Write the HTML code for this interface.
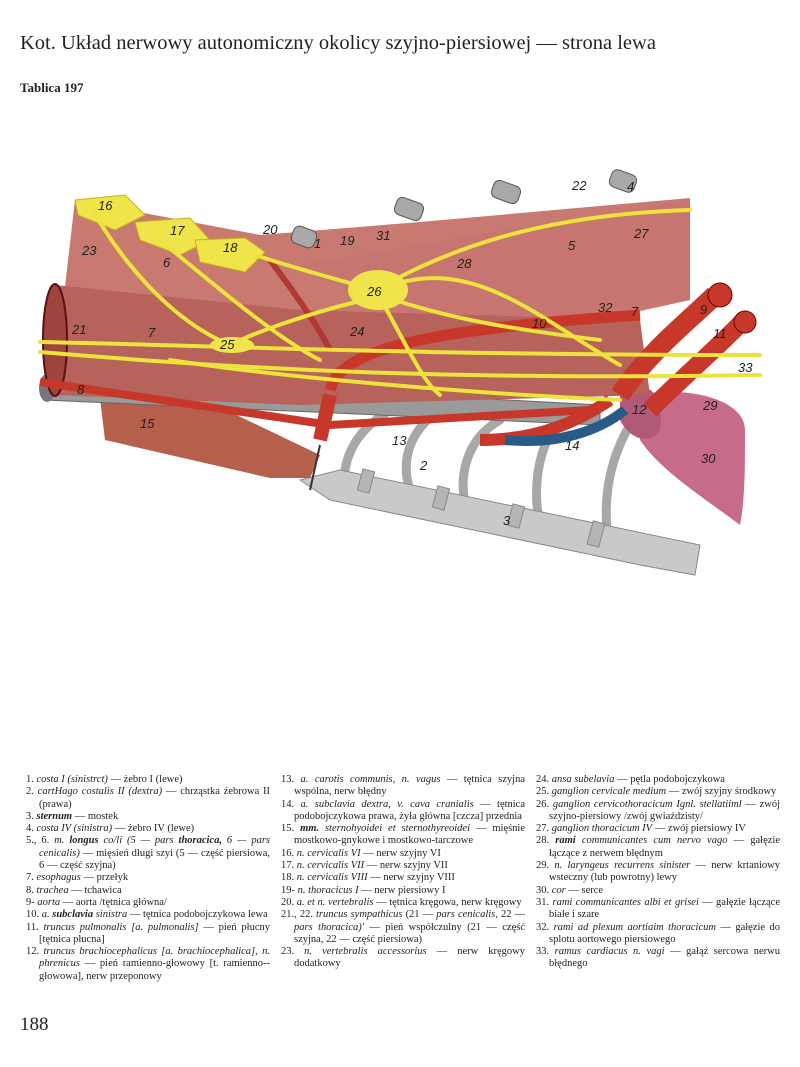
<!DOCTYPE html>
<html><head><meta charset="utf-8"><style>
body{margin:0;background:#fff;}
#p{position:relative;width:800px;height:1067px;overflow:hidden;background:#fff;font-family:"Liberation Serif",serif;color:#222;}
.t{position:absolute;left:20px;top:32px;font-size:20.5px;letter-spacing:0px;white-space:nowrap;}
.tb{position:absolute;left:20px;top:80px;font-size:13px;font-weight:bold;}
.col{position:absolute;top:774px;width:244px;font-size:10.5px;line-height:12.3px;}
.col div{padding-left:13px;text-indent:-13px;text-align:justify;}
.pn{position:absolute;left:20px;top:1014px;font-size:19px;}
svg{position:absolute;left:0;top:0;}
svg text{font-family:"Liberation Sans",sans-serif;font-style:italic;font-size:13px;fill:#222;}
</style></head><body><div id="p">
<div class="t">Kot. Układ nerwowy autonomiczny okolicy szyjno-piersiowej — strona lewa</div>
<div class="tb">Tablica 197</div>
<svg width="800" height="1067" viewBox="0 0 800 1067">
<g fill="none" stroke="#a8a8a8" stroke-width="9" stroke-linecap="round">
<path d="M345,470 C350,440 370,420 400,405"/>
<path d="M410,490 C400,460 410,430 440,410"/>
<path d="M470,520 C455,480 465,440 500,420"/>
<path d="M545,540 C530,500 535,450 560,420"/>
<path d="M610,550 C600,500 610,450 640,410"/>
</g>
<path d="M300,480 L340,470 L700,545 L695,575 L640,565 L330,500 Z" fill="#c9c9c9" stroke="#888" stroke-width="1"/>
<g fill="#b5b5b5" stroke="#888"><rect x="360" y="470" width="12" height="22" transform="rotate(15 366 481)"/><rect x="435" y="487" width="12" height="22" transform="rotate(15 441 498)"/><rect x="510" y="505" width="12" height="22" transform="rotate(15 516 516)"/><rect x="590" y="522" width="12" height="24" transform="rotate(15 596 534)"/></g>
<path d="M635,395 C690,385 745,400 745,430 C745,470 745,500 740,525 C700,495 660,470 640,440 Z" fill="#c76b8a"/>
<path d="M620,385 C650,380 665,395 660,430 C650,445 630,440 620,420 Z" fill="#b05a78"/>
<path d="M100,398 L180,388 L320,455 L310,478 L270,478 L105,440 Z" fill="#b5604c"/>
<path d="M45,375 L600,405 L600,425 L45,400 Z" fill="#9a9a9a" stroke="#666"/>
<ellipse cx="47" cy="388" rx="8" ry="14" fill="#777"/>
<path d="M75,200 L260,235 L420,222 L690,198 L690,300 L600,320 L420,340 L60,330 Z" fill="#c97a70"/>
<path d="M300,265 L690,200 L690,300 L450,330 Z" fill="#c67570"/>
<path d="M55,285 L300,310 L640,320 L650,395 L300,405 L55,395 Z" fill="#b7625a"/>
<ellipse cx="55" cy="340" rx="12" ry="56" fill="#a0453e" stroke="#5a1010" stroke-width="2"/>
<path d="M40,382 L330,425 L590,410" fill="none" stroke="#c8382a" stroke-width="8"/>
<path d="M330,390 C340,350 420,330 640,315" fill="none" stroke="#c8382a" stroke-width="11"/>
<path d="M330,395 L320,440" stroke="#c8382a" stroke-width="14"/>
<path d="M270,260 C300,300 320,330 330,350" fill="none" stroke="#b03a30" stroke-width="6"/>
<path d="M620,395 C650,350 690,320 715,295" fill="none" stroke="#c8382a" stroke-width="20"/>
<circle cx="720" cy="295" r="12" fill="#c8382a" stroke="#700"/>
<path d="M650,410 C680,380 720,345 742,322" fill="none" stroke="#c8382a" stroke-width="18"/>
<circle cx="745" cy="322" r="11" fill="#c8382a" stroke="#700"/>
<path d="M480,440 C540,440 580,420 610,400" fill="none" stroke="#c8382a" stroke-width="12"/>
<path d="M505,440 C560,445 600,430 625,410" fill="none" stroke="#2a5a88" stroke-width="10"/>
<g fill="#a8a8a8" stroke="#555"><rect x="292" y="228" width="24" height="18" rx="6" transform="rotate(20 304 237)"/><rect x="395" y="200" width="28" height="18" rx="6" transform="rotate(20 409 209)"/><rect x="492" y="183" width="28" height="18" rx="6" transform="rotate(20 506 192)"/><rect x="610" y="172" width="26" height="18" rx="6" transform="rotate(20 623 181)"/></g>
<g fill="#efe54a" stroke="#c8b020" stroke-width="1"><path d="M75,200 L125,195 L145,215 L115,230 L78,215 Z"/><path d="M135,222 L190,218 L210,240 L180,255 L140,240 Z"/><path d="M195,240 L245,238 L265,252 L245,272 L200,262 Z"/></g>
<g fill="none" stroke="#ece33c" stroke-width="4" stroke-linecap="round">
<path d="M40,342 C200,345 400,355 760,355"/>
<path d="M40,352 C250,370 450,380 760,375"/>
<path d="M90,205 C120,260 170,320 230,345"/>
<path d="M160,240 C220,290 280,340 320,360"/>
<path d="M255,255 C300,270 340,280 375,290"/>
<path d="M375,290 C430,260 520,215 690,210"/>
<path d="M375,290 C400,330 420,380 440,395"/>
<path d="M380,295 C450,320 520,330 600,340"/>
<path d="M380,290 C470,250 540,320 620,365"/>
<path d="M230,345 C260,330 320,310 365,300"/>
<path d="M170,360 C300,380 500,395 620,400"/>
</g>
<ellipse cx="378" cy="290" rx="30" ry="20" fill="#efe54a"/>
<ellipse cx="232" cy="345" rx="22" ry="8" fill="#efe54a"/>
<path d="M320,445 L310,490" stroke="#333" stroke-width="2"/>
<text x="98" y="210">16</text><text x="170" y="235">17</text><text x="223" y="252">18</text><text x="82" y="255">23</text>
<text x="163" y="267">6</text><text x="263" y="234">20</text><text x="314" y="248">1</text><text x="340" y="245">19</text><text x="376" y="240">31</text>
<text x="367" y="296">26</text><text x="457" y="268">28</text><text x="568" y="250">5</text><text x="572" y="190">22</text><text x="627" y="191">4</text><text x="634" y="238">27</text>
<text x="72" y="334">21</text><text x="148" y="337">7</text><text x="220" y="349">25</text><text x="350" y="336">24</text><text x="532" y="328">10</text>
<text x="598" y="312">32</text><text x="631" y="316">7</text><text x="700" y="314">9</text><text x="713" y="338">11</text><text x="738" y="372">33</text>
<text x="77" y="394">8</text><text x="140" y="428">15</text><text x="392" y="445">13</text><text x="565" y="450">14</text><text x="632" y="414">12</text><text x="703" y="410">29</text>
<text x="701" y="463">30</text><text x="420" y="470">2</text><text x="503" y="525">3</text>
</svg>
<div class="col" style="left:26px">
<div>1. <i>costa I (sinistrct)</i> — żebro I (lewe)</div>
<div>2. <i>cartHago costalis II (dextra)</i> — chrząstka żebrowa II (prawa)</div>
<div>3. <b><i>sternum</i></b> — mostek</div>
<div>4. <i>costa IV (sinistra)</i> — żebro IV (lewe)</div>
<div>5., 6. <i>m. <b>longus</b> co/li (5 — pars <b>thoracica,</b> 6 — pars cenicalis)</i> — mięsień długi szyi (5 — część piersiowa, 6 — część szyjna)</div>
<div>7. <i>esophagus</i> — przełyk</div>
<div>8. <i>trachea</i> — tchawica</div>
<div>9- <i>aorta</i> — aorta /tętnica główna/</div>
<div>10. <i>a. <b>subclavia</b> sinistra</i> — tętnica podobojczykowa lewa</div>
<div>11. <i>truncus pulmonalis [a. pulmonalis]</i> — pień płucny [tętnica płucna]</div>
<div>12. <i>truncus brachiocephalicus [a. brachiocephalica], n. phrenicus</i> — pień ramienno-głowowy [t. ramienno--głowowa], nerw przeponowy</div>
</div>
<div class="col" style="left:281px">
<div>13. <i>a. carotis communis, n. vagus</i> — tętnica szyjna wspólna, nerw błędny</div>
<div>14. <i>a. subclavia dextra, v. cava cranialis</i> — tętnica podobojczykowa prawa, żyła główna [czcza] przednia</div>
<div>15. <b><i>mm.</i></b> <i>sternohyoidei et sternothyreoidei</i> — mięśnie mostkowo-gnykowe i mostkowo-tarczowe</div>
<div>16. <i>n. cervicalis VI</i> — nerw szyjny VI</div>
<div>17. <i>n. cervicalis VII</i> — nerw szyjny VII</div>
<div>18. <i>n. cervicalis VIII</i> — nerw szyjny VIII</div>
<div>19- <i>n. thoracicus I</i> — nerw piersiowy I</div>
<div>20. <i>a. et n. vertebralis</i> — tętnica kręgowa, nerw kręgowy</div>
<div>21., 22. <i>truncus sympathicus</i> (21 — <i>pars cenicalis,</i> 22 — <i>pars thoracica)'</i> — pień współczulny (21 — część szyjna, 22 — część piersiowa)</div>
<div>23. <i>n. vertebralis accessorius</i> — nerw kręgowy dodatkowy</div>
</div>
<div class="col" style="left:536px">
<div>24. <i>ansa subelavia</i> — pętla podobojczykowa</div>
<div>25. <i>ganglion cervicale medium</i> — zwój szyjny środkowy</div>
<div>26. <i>ganglion cervicothoracicum Ignl. stellatiiml</i> — zwój szyjno-piersiowy /zwój gwiaździsty/</div>
<div>27. <i>ganglion thoracicum IV</i> — zwój piersiowy IV</div>
<div>28. <b><i>rami</i></b> <i>communicantes cum nervo vago</i> — gałęzie łączące z nerwem błędnym</div>
<div>29. <i>n. laryngeus recurrens sinister</i> — nerw krtaniowy wsteczny (lub powrotny) lewy</div>
<div>30. <i>cor</i> — serce</div>
<div>31. <i>rami communicantes albi et grisei</i> — gałęzie łączące białe i szare</div>
<div>32. <i>rami ad plexum aortiaim thoracicum</i> — gałęzie do splotu aortowego piersiowego</div>
<div>33. <i>ramus cardiacus n. vagi</i> — gałąź sercowa nerwu błędnego</div>
</div>
<div class="pn">188</div>
</div></body></html>
